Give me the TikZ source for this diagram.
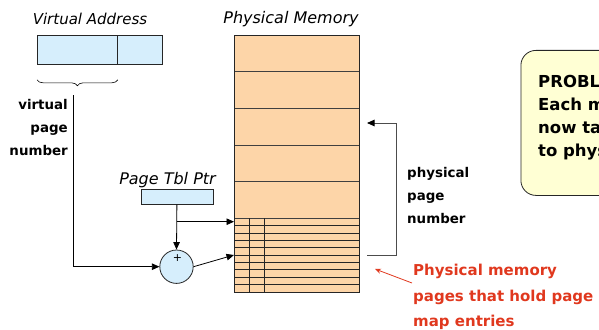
\documentclass[tikz,border=0pt]{standalone}
\usepackage{fontspec}
\setmainfont{DejaVu Sans}
\usetikzlibrary{arrows.meta,decorations.pathreplacing}
\definecolor{vblue}{HTML}{D6EEFC}
\definecolor{peach}{HTML}{FDD5A8}
\definecolor{note}{HTML}{FFFFD4}
\definecolor{redtxt}{HTML}{E0381E}
\begin{document}
\begin{tikzpicture}[x=1pt,y=-1pt,
  box/.style={draw=black!85, line width=0.8pt, inner sep=0pt, anchor=north west},
  arr/.style={-{Triangle[length=7.5pt,width=6.5pt]}, line width=0.8pt},
  lbl/.style={font=\fontsize{13.4}{23}\selectfont\bfseries, inner sep=0pt},
  ttl/.style={font=\fontsize{16}{18}\selectfont\itshape, inner sep=0pt},
  redlbl/.style={font=\fontsize{15}{25.5}\selectfont\bfseries, text=redtxt, inner sep=0pt, align=left}]
\useasboundingbox (0,0) rectangle (599,329);
\clip (0,0) rectangle (599,329);

% titles
\node[ttl, font=\fontsize{15}{18}\selectfont\itshape, anchor=base] (vatitle) at (90,25) {Virtual Address};
\node[ttl, anchor=base] (pmtitle) at (291,24) {Physical Memory};

% virtual address
\node[box, fill=vblue, minimum width=80pt, minimum height=29pt] (vpn) at (37,35) {};
\node[box, fill=vblue, minimum width=45pt, minimum height=29pt] (off) at (117,35) {};
\draw[decorate, decoration={brace, amplitude=6pt}, line width=0.6pt]
  (vpn.south east) ++(0,15) -- ([yshift=-15pt]vpn.south west);
\node[lbl, anchor=east, align=right] (vpnlbl) at (68,128) {virtual\\page\\number};

% physical memory
\node[box, fill=peach, minimum width=125pt, minimum height=257pt] (mem) at (234,35) {};
\foreach \yy in {71.7,108.3,145,181.7,218.3}
  \draw[black!75, line width=0.8pt] (234,\yy) -- (359,\yy);
\foreach \k in {1,...,9}
  \draw[black!85, line width=0.8pt] (234,218.3+\k*7.34) -- (359,218.3+\k*7.34);
\draw[black!85, line width=0.8pt] (249.3,218.3) -- (249.3,292) (264,218.3) -- (264,292);
\draw[black!85, line width=0.8pt] (mem.north west) rectangle (mem.south east);

% page table pointer
\node[ttl, anchor=base] (ptrlbl) at (167.5,184) {Page Tbl Ptr};
\node[box, fill=vblue, minimum width=72pt, minimum height=14.4pt] (ptr) at (140.5,189.3) {};
\node[circle, draw=black!85, line width=0.8pt, fill=vblue, minimum size=33.4pt, inner sep=0pt] (add) at (176.5,266.7) {};
\node[font=\fontsize{11}{11}\selectfont, inner sep=0pt] (plus) at (177.5,258.5) {+};

\coordinate (br) at (176.5,221.7);
\coordinate (vtop) at (73,95);
\coordinate (t2) at (234,255);
\draw[arr] (ptr.south) -- (add.north);
\draw[arr] (br) -- (br -| mem.west);
\draw[arr] (vtop) |- (add.west);
\draw[arr] (add.east) -- (t2);

% physical page number
\coordinate (pp1) at (367,255);
\coordinate (pp2) at (367,123);
\draw[black!70, line width=0.9pt, -{Triangle[length=7.5pt,width=6.5pt,fill=black,color=black]}] (pp1) -- (396,255) |- (pp2);
\node[lbl, anchor=west, align=left] (pplbl) at (407,196) {physical\\page\\number};

% note
\node[box, fill=note, rounded corners=15pt, minimum width=160pt, minimum height=145pt] (note) at (520.5,50) {};
\node[font=\fontsize{16.5}{23}\selectfont\bfseries, inner sep=0pt, anchor=west, align=left] (notetxt) at (538,118)
  {PROBLEM:\\Each memory access\\now takes two\\to physical memory};

% red annotation
\coordinate (rtip) at (375,269);
\draw[redtxt, line width=0.8pt, -{Stealth[length=6pt,width=5pt]}] (412,283) -- (rtip);
\node[redlbl, anchor=west] (redlabel) at (413,297) {Physical memory\\pages that hold page\\map entries};
\end{tikzpicture}
\end{document}
